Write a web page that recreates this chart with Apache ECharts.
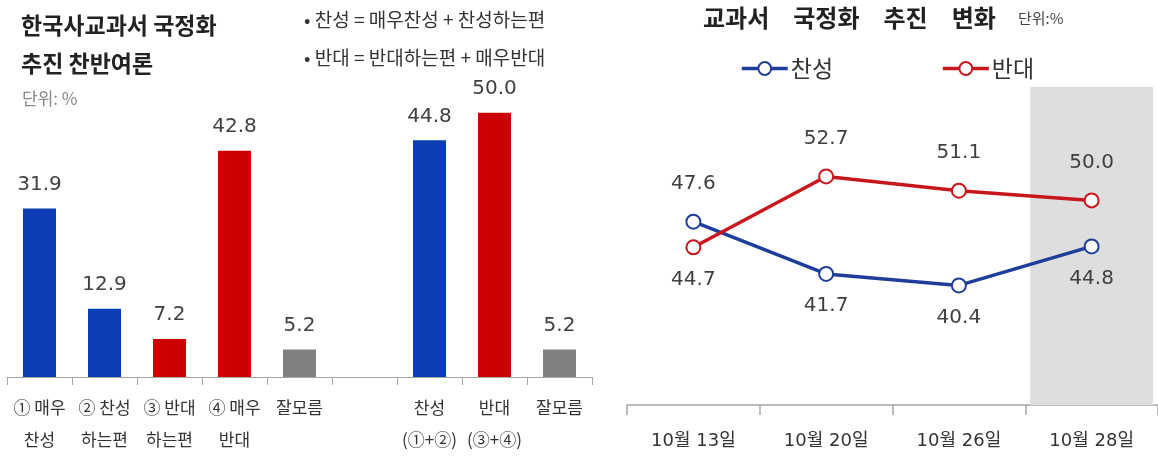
<!DOCTYPE html>
<html><head><meta charset="utf-8">
<script src="https://cdn.jsdelivr.net/npm/echarts@6/dist/echarts.min.js"></script>
<style>html,body{margin:0;padding:0;background:#fff}#c{width:1158px;height:461px}</style>
</head><body><div id="c"></div>
<script>
// ---- data ----
const barCategories = ['① 매우\n찬성', '② 찬성\n하는편', '③ 반대\n하는편', '④ 매우\n반대', '잘모름', '', '찬성\n(①+②)', '반대\n(③+④)', '잘모름'];
const barValues = [31.9, 12.9, 7.2, 42.8, 5.2, null, 44.8, 50.0, 5.2];
const barGroups = ['찬성', '찬성', '반대', '반대', '잘모름', '', '찬성', '반대', '잘모름'];
const lineDates = ['10월 13일', '10월 20일', '10월 26일', '10월 28일'];
const supportValues = [47.6, 41.7, 40.4, 44.8];
const opposeValues = [44.7, 52.7, 51.1, 50.0];
const highlightDate = '10월 28일';

// ---- styles ----
const FONT = "'DejaVu Sans','Noto Sans CJK KR',sans-serif";
const KFONT = "'Noto Sans CJK KR','DejaVu Sans',sans-serif";
const palette = { '찬성': '#0b3db5', '반대': '#cc0000', '잘모름': '#808080', '': '#808080' };
const lineBlue = '#1f3e9c';
const lineRed = '#c8161d';
const Y2_MIN = 26.9, Y2_MAX = 62.8;

function lineSeries(name, values, other, color) {
  return {
    name: name, type: 'line', xAxisIndex: 1, yAxisIndex: 1, z: 5,
    symbol: 'emptyCircle', symbolSize: 14,
    lineStyle: { color: color, width: 3.5 },
    itemStyle: { color: color, borderColor: color, borderWidth: 3 },
    data: values.map((v, i) => {
      const up = v >= other[i];
      return { value: v, label: { position: up ? 'top' : 'bottom', distance: up ? 20 : 14 } };
    }),
    label: {
      show: true, fontSize: 20, color: '#404040', fontFamily: FONT,
      formatter: p => p.value.toFixed(1)
    }
  };
}

const chart = echarts.init(document.getElementById('c'), null, { renderer: 'canvas' });
chart.setOption({
  backgroundColor: '#ffffff',
  animation: false,
  title: [
    { text: '한국사교과서 국정화\n추진 찬반여론', left: 21, top: 6, padding: 0,
      textStyle: { fontSize: 23, fontWeight: 'bold', color: '#222', lineHeight: 38, fontFamily: KFONT } },
    { text: '단위: %', left: 22, top: 90, padding: 0,
      textStyle: { fontSize: 17, fontWeight: 'normal', color: '#888', fontFamily: KFONT } },
    { text: '• 찬성 = 매우찬성 + 찬성하는편\n• 반대 = 반대하는편 + 매우반대', left: 304, top: 1, padding: 0,
      textStyle: { fontSize: 19, fontWeight: 'normal', color: '#333', lineHeight: 38, fontFamily: KFONT } },
    { text: '교과서{s| }국정화{s| }추진{s| }변화', left: 703, top: 6, padding: 0,
      textStyle: { fontSize: 24, fontWeight: 'bold', color: '#222', fontFamily: KFONT,
        rich: { s: { width: 24, fontSize: 24 } } } },
    { text: '단위:%', left: 1018, top: 11, padding: 0,
      textStyle: { fontSize: 15, fontWeight: 'normal', color: '#444', fontFamily: KFONT } }
  ],
  legend: {
    data: ['찬성', '반대'], left: 735, top: 52, itemWidth: 46, itemHeight: 16, itemGap: 108,
    lineStyle: { width: 3.5 },
    textStyle: { fontSize: 23, color: '#333', fontFamily: KFONT, padding: [0, 0, 0, -2] }
  },
  grid: [
    { left: 7, top: 60, width: 585, height: 317 },
    { left: 627, top: 87, width: 535, height: 318 }
  ],
  xAxis: [
    { type: 'category', gridIndex: 0, data: barCategories,
      axisLine: { lineStyle: { color: '#a6a6a6', width: 1 } },
      axisTick: { show: true, length: 8, interval: 0, lineStyle: { color: '#a6a6a6' } },
      axisLabel: { interval: 0, color: '#333', fontSize: 17, lineHeight: 32, margin: 15, fontFamily: KFONT } },
    { type: 'category', gridIndex: 1, data: lineDates,
      axisLine: { lineStyle: { color: '#a6a6a6', width: 1.5 } },
      axisTick: { show: true, length: 10, interval: 0, lineStyle: { color: '#a6a6a6', width: 1.5 } },
      axisLabel: { interval: 0, color: '#333', fontSize: 18, margin: 27, fontFamily: FONT } }
  ],
  yAxis: [
    { type: 'value', gridIndex: 0, min: 0, max: 60, show: false },
    { type: 'value', gridIndex: 1, min: Y2_MIN, max: Y2_MAX, show: false }
  ],
  series: [
    { name: 'bars', type: 'bar', xAxisIndex: 0, yAxisIndex: 0, barWidth: 33,
      data: barValues.map((v, i) => ({ value: v, itemStyle: { color: palette[barGroups[i]] } })),
      label: { show: true, position: 'top', distance: 14, fontSize: 20, color: '#404040', fontFamily: FONT,
        formatter: p => (p.value == null ? '' : p.value.toFixed(1)) } },
    { name: 'shade', type: 'bar', xAxisIndex: 1, yAxisIndex: 1, barWidth: 123, silent: true, z: 1,
      itemStyle: { color: '#dedede' },
      data: lineDates.map(d => (d === highlightDate ? Y2_MAX : null)) },
    lineSeries('찬성', supportValues, opposeValues, lineBlue),
    lineSeries('반대', opposeValues, supportValues, lineRed)
  ]
});
</script></body></html>
